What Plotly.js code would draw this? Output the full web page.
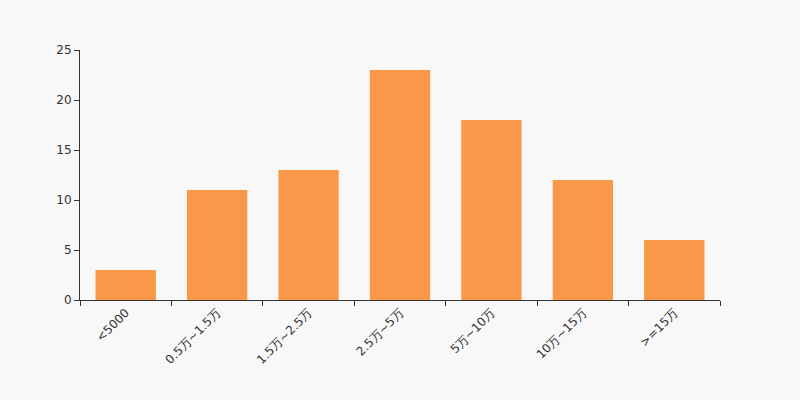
<!DOCTYPE html>
<html><head><meta charset="utf-8">
<script src="https://cdn.plot.ly/plotly-3.0.1.min.js"></script>
<style>html,body{margin:0;padding:0;background:#f8f8f8;}</style>
</head><body>
<div id="chart" style="width:800px;height:400px;"></div>
<script>
const categories = ["<5000", "0.5万~1.5万", "1.5万~2.5万", "2.5万~5万", "5万~10万", "10万~15万", ">=15万"];
const values = [3, 11, 13, 23, 18, 12, 6];
const yTicks = [0, 5, 10, 15, 20, 25];

Plotly.newPlot("chart", [{
  type: "bar",
  x: categories,
  y: values,
  marker: {color: "#f89848"},
  width: 0.66,
  hoverinfo: "x+y"
}], {
  width: 800, height: 400,
  paper_bgcolor: "#f8f8f8",
  plot_bgcolor: "#f8f8f8",
  margin: {l: 80, r: 80, t: 50, b: 100},
  showlegend: false,
  font: {family: "DejaVu Sans, sans-serif", size: 12, color: "#333"},
  xaxis: {
    type: "category",
    tickson: "boundaries",
    ticks: "outside",
    ticklen: 5,
    tickcolor: "#333",
    showline: true,
    linecolor: "#333",
    linewidth: 1,
    showgrid: false,
    tickangle: -45,
    tickfont: {size: 12, color: "#333"},
    range: [-0.5, 6.5],
    fixedrange: true
  },
  yaxis: {
    range: [0, 25],
    tickvals: yTicks,
    ticks: "outside",
    ticklen: 5,
    tickcolor: "#333",
    showline: true,
    linecolor: "#333",
    linewidth: 1,
    showgrid: false,
    zeroline: false,
    tickfont: {size: 12, color: "#333"},
    fixedrange: true
  }
}, {displayModeBar: false, staticPlot: true});
</script>
</body></html>
